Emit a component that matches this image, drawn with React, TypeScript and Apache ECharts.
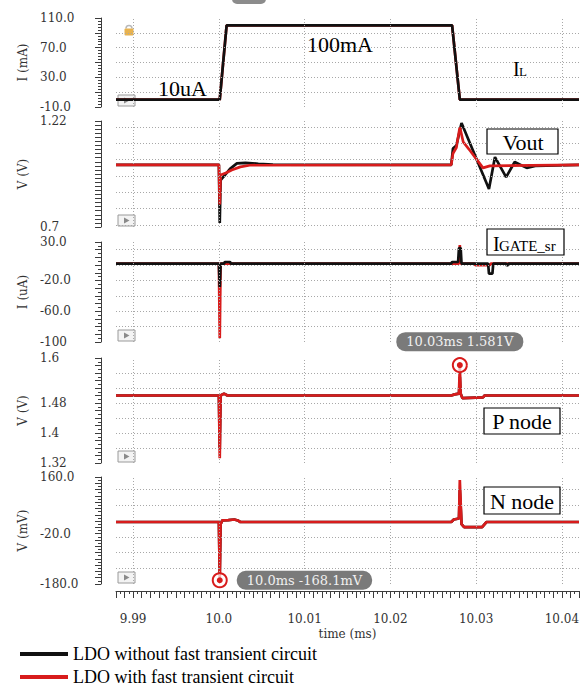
import React, { useEffect, useRef } from 'react';
import * as echarts from 'echarts';

const NAME_BLACK = 'LDO without fast transient circuit';
const NAME_RED = 'LDO with fast transient circuit';

// time axis (ms)
const timeMin = 9.988;
const timeMax = 10.042;
const timeTickLabels = [9.99, 10.0, 10.01, 10.02, 10.03, 10.04];
const timeGridLines = [9.99, 9.995, 10.0, 10.005, 10.01, 10.015, 10.02, 10.025, 10.03, 10.035, 10.04];

// Panel 1: load current IL (mA)
const ilTime = [9.988, 10.0001, 10.0009, 10.0272, 10.0281, 10.042];
const ilValue = [0.01, 0.01, 100, 100, 0.01, 0.01];
const ilTickValues = [110, 70, 30, -10];
const ilTickLabels = ['110.0', '70.0', '30.0', '-10.0'];
const ilGridValues = [10, 30, 50, 70, 90];

// Panel 2: Vout (V)
const voutBlackTime = [9.988, 10.0, 10.0001, 10.0002, 10.0006, 10.0013, 10.0021, 10.0031, 10.0046, 10.0063, 10.0271, 10.0273, 10.0277, 10.0283, 10.0315, 10.0322, 10.0335, 10.0345, 10.0359, 10.0369, 10.042];
const voutBlackValue = [1.005, 1.005, 0.72, 0.93, 0.95, 0.985, 1.012, 1.015, 1.01, 1.006, 1.005, 1.085, 1.1, 1.21, 0.886, 1.043, 0.945, 1.019, 0.99, 1.0, 1.005];
const voutRedTime = [9.988, 10.0, 10.0001, 10.0002, 10.0008, 10.0015, 10.0025, 10.0036, 10.0271, 10.0273, 10.0277, 10.0281, 10.0285, 10.0292, 10.0301, 10.0308, 10.0316, 10.042];
const voutRedValue = [1.005, 1.005, 0.81, 0.955, 0.965, 0.98, 0.995, 1.003, 1.005, 1.06, 1.09, 1.19, 1.117, 1.08, 1.029, 0.99, 1.0, 1.005];
const voutTickValues = [1.22, 0.7];
const voutTickLabels = ['1.22', '0.7'];
const voutGridValues = [0.71, 0.79, 0.87, 0.95, 1.03, 1.11, 1.19];

// Panel 3: IGATE_sr (uA)
const igBlackTime = [9.988, 10.0, 10.0001, 10.0002, 10.0006, 10.0007, 10.0013, 10.0014, 10.0271, 10.0272, 10.0279, 10.028, 10.0282, 10.0283, 10.0314, 10.0315, 10.0319, 10.032, 10.0335, 10.0336, 10.0338, 10.042];
const igBlackValue = [2, 2, -28.5, 2, 2, 4, 4, 2, 2, 4, 4, 22, 22, 2, 2, -11, -11, 2, 2, -1, 2, 2];
const igRedTime = [9.988, 10.0, 10.0001, 10.0002, 10.028, 10.0281, 10.0282, 10.0298, 10.0299, 10.0316, 10.0317, 10.042];
const igRedValue = [2, 2, -95, 2, 2, 26, 2, 2, 0, 0, 2, 2];
const igTickValues = [30, -20, -60, -100];
const igTickLabels = ['30.0', '-20.0', '-60.0', '-100'];
const igGridValues = [-80, -60, -40, -20, 0, 20];

// Panel 4: P node (V)
const pBlackTime = [9.988, 10.0, 10.0001, 10.0002, 10.0006, 10.001, 10.0271, 10.0275, 10.028, 10.0281, 10.0282, 10.0284, 10.0308, 10.031, 10.042];
const pBlackValue = [1.5, 1.5, 1.36, 1.5, 1.505, 1.5, 1.5, 1.503, 1.505, 1.55, 1.505, 1.493, 1.495, 1.5, 1.5];
const pRedTime = [9.988, 10.0, 10.0001, 10.0002, 10.0006, 10.001, 10.0271, 10.0275, 10.028, 10.0281, 10.0282, 10.0284, 10.0308, 10.031, 10.042];
const pRedValue = [1.5, 1.5, 1.333, 1.5, 1.505, 1.5, 1.5, 1.503, 1.505, 1.581, 1.505, 1.493, 1.495, 1.5, 1.5];
const pTickValues = [1.6, 1.48, 1.4, 1.32];
const pTickLabels = ['1.6', '1.48', '1.4', '1.32'];
const pGridValues = [1.36, 1.4, 1.44, 1.48, 1.52, 1.56];

// Panel 5: N node (mV)
const nBlackTime = [9.988, 10.0, 10.0001, 10.0002, 10.0004, 10.0011, 10.0018, 10.0022, 10.0025, 10.0271, 10.0274, 10.028, 10.0281, 10.0283, 10.0286, 10.0307, 10.0312, 10.042];
const nBlackValue = [17, 17, -150, 10, 22, 23, 25, 22, 17, 17, 25, 28, 120, 10, 1, 1, 17, 17];
const nRedTime = [9.988, 10.0, 10.0001, 10.0002, 10.0004, 10.0011, 10.0018, 10.0022, 10.0025, 10.0271, 10.0274, 10.028, 10.0281, 10.0283, 10.0286, 10.0307, 10.0312, 10.042];
const nRedValue = [17, 17, -168.1, 10, 22, 23, 25, 22, 17, 17, 25, 28, 150, 10, 1, 1, 17, 17];
const nTickValues = [160, -20, -180];
const nTickLabels = ['160.0', '-20.0', '-180.0'];
const nGridValues = [-130, -80, -30, 70, 120];

const UI_FONT = '"DejaVu Serif", serif';
const TIMES = '"Liberation Serif", "Times New Roman", serif';
const BLACK = '#111111';
const RED = '#d81c1c';
const GRID_COLOR = '#a8a8a8';
const AXIS_COLOR = '#3c3c3c';

const zip = (t: number[], v: number[]) => t.map((x, i) => [x, v[i]]);

const panelLayout = [
  { top: 18, height: 89 },
  { top: 121, height: 106 },
  { top: 242, height: 100 },
  { top: 358, height: 105 },
  { top: 477, height: 107 },
];

function makeYAxis(idx: number, name: string, min: number, max: number, interval: number, minorSplit: number, tickValues: number[], tickLabels: string[]) {
  return {
    type: 'value',
    gridIndex: idx,
    min,
    max,
    interval,
    name,
    nameLocation: 'middle',
    nameGap: 66,
    nameTextStyle: { fontFamily: UI_FONT, fontSize: 12, color: '#333' },
    offset: 15,
    axisLine: { show: true, onZero: false, lineStyle: { color: AXIS_COLOR, width: 1 } },
    axisTick: { show: true, inside: false, length: 6, lineStyle: { color: AXIS_COLOR } },
    minorTick: { show: minorSplit > 1, splitNumber: minorSplit, length: 3, lineStyle: { color: AXIS_COLOR } },
    splitLine: { show: false },
    axisLabel: {
      show: true,
      align: 'left',
      margin: 61,
      fontFamily: UI_FONT,
      fontSize: 12,
      color: '#333',
      showMinLabel: true,
      showMaxLabel: true,
      formatter: (v: number) => {
        const i = tickValues.findIndex((t) => Math.abs(t - v) < 1e-7);
        return i >= 0 ? tickLabels[i] : '';
      },
    },
  };
}

function gridSeries(idx: number, yMin: number, yValues: number[]) {
  return {
    type: 'line',
    xAxisIndex: idx,
    yAxisIndex: idx,
    data: [[timeMin, yMin]],
    showSymbol: false,
    symbol: 'none',
    lineStyle: { opacity: 0 },
    silent: true,
    z: 1,
    markLine: {
      silent: true,
      symbol: ['none', 'none'],
      label: { show: false },
      lineStyle: { color: GRID_COLOR, type: [1, 2], width: 1 },
      data: [...timeGridLines.map((x) => ({ xAxis: x })), ...yValues.map((y) => ({ yAxis: y }))],
    },
  };
}

function lineSeries(idx: number, name: string, color: string, t: number[], v: number[], extra: any = {}) {
  return {
    type: 'line',
    name,
    xAxisIndex: idx,
    yAxisIndex: idx,
    data: zip(t, v),
    showSymbol: false,
    symbol: 'none',
    lineStyle: { color, width: 2.7 },
    itemStyle: { color },
    z: 2,
    ...extra,
  };
}

function markerFor(t: number[], v: number[], pick: 'max' | 'min', text: (x: number, y: number) => string, position: string, distance: number) {
  let idx = 0;
  v.forEach((val, i) => {
    if (pick === 'max' ? val > v[idx] : val < v[idx]) idx = i;
  });
  const coord = [t[idx], v[idx]];
  return {
    silent: true,
    symbol: 'circle',
    data: [
      {
        coord,
        symbolSize: 14,
        itemStyle: { color: 'rgba(255,255,255,0.7)', borderColor: RED, borderWidth: 2 },
        label: {
          show: true,
          position,
          distance,
          formatter: text(coord[0], coord[1]),
          backgroundColor: '#7a7a7a',
          color: '#f0f0f0',
          borderRadius: 9,
          padding: [3, 10, 3, 10],
          fontFamily: UI_FONT,
          fontSize: 13,
        },
      },
      {
        coord,
        symbolSize: 6,
        itemStyle: { color: RED, borderWidth: 0 },
        label: { show: false },
      },
    ],
  };
}

export default function App() {
  const ref = useRef<HTMLDivElement>(null);

  useEffect(() => {
    if (!ref.current) return;
    const chart = echarts.init(ref.current, null, { renderer: 'svg' });

    const grids = panelLayout.map((p) => ({ left: 116, right: 9, top: p.top, height: p.height }));

    const xAxes: any[] = panelLayout.map((_, i) => ({
      type: 'value',
      gridIndex: i,
      min: timeMin,
      max: timeMax,
      show: false,
    }));
    xAxes[4] = {
      type: 'value',
      gridIndex: 4,
      min: timeMin,
      max: timeMax,
      interval: 0.0005,
      position: 'bottom',
      offset: 7,
      name: 'time (ms)',
      nameLocation: 'middle',
      nameGap: 37,
      nameTextStyle: { fontFamily: UI_FONT, fontSize: 12, color: '#333' },
      axisLine: { show: true, onZero: false, lineStyle: { color: AXIS_COLOR, width: 1 } },
      axisTick: { show: true, length: 3, lineStyle: { color: AXIS_COLOR } },
      splitLine: { show: false },
      axisLabel: {
        margin: 22,
        fontFamily: UI_FONT,
        fontSize: 12,
        color: '#333',
        formatter: (v: number) => {
          const hit = timeTickLabels.find((t) => Math.abs(t - v) < 1e-7);
          if (hit === undefined) return '';
          return Math.abs(hit - 10) < 1e-9 ? '10.0' : hit.toFixed(2);
        },
      },
    };
    xAxes.push({
      type: 'value',
      gridIndex: 4,
      min: timeMin,
      max: timeMax,
      interval: 0.001,
      position: 'bottom',
      offset: 7,
      axisLine: { show: false, onZero: false },
      axisTick: { show: true, length: 7, lineStyle: { color: AXIS_COLOR } },
      axisLabel: { show: false },
      splitLine: { show: false },
    });

    const yAxes = [
      makeYAxis(0, 'I (mA)', -10, 110, 20, 5, ilTickValues, ilTickLabels),
      makeYAxis(1, 'V (V)', 0.7, 1.22, 0.02, 1, voutTickValues, voutTickLabels),
      makeYAxis(2, 'I (uA)', -100, 30, 10, 2, igTickValues, igTickLabels),
      makeYAxis(3, 'V (V)', 1.32, 1.6, 0.02, 2, pTickValues, pTickLabels),
      makeYAxis(4, 'V (mV)', -180, 160, 20, 2, nTickValues, nTickLabels),
    ];

    const series: any[] = [
      gridSeries(0, -10, ilGridValues),
      gridSeries(1, 0.7, voutGridValues),
      gridSeries(2, -100, igGridValues),
      gridSeries(3, 1.32, pGridValues),
      gridSeries(4, -180, nGridValues),
      // panel 1
      lineSeries(0, NAME_RED, RED, ilTime, ilValue),
      lineSeries(0, NAME_BLACK, BLACK, ilTime, ilValue),
      // panel 2
      lineSeries(1, NAME_BLACK, BLACK, voutBlackTime, voutBlackValue),
      lineSeries(1, NAME_RED, RED, voutRedTime, voutRedValue),
      // panel 3
      lineSeries(2, NAME_RED, RED, igRedTime, igRedValue),
      lineSeries(2, NAME_BLACK, BLACK, igBlackTime, igBlackValue),
      // panel 4
      lineSeries(3, NAME_BLACK, BLACK, pBlackTime, pBlackValue),
      lineSeries(3, NAME_RED, RED, pRedTime, pRedValue, {
        markPoint: markerFor(pRedTime, pRedValue, 'max', (x, y) => `${x.toFixed(2)}ms ${y.toFixed(3)}V`, 'top', 6),
      }),
      // panel 5
      lineSeries(4, NAME_BLACK, BLACK, nBlackTime, nBlackValue),
      lineSeries(4, NAME_RED, RED, nRedTime, nRedValue, {
        markPoint: markerFor(nRedTime, nRedValue, 'min', (x, y) => `${x.toFixed(1)}ms ${y.toFixed(1)}mV`, 'right', 9),
      }),
    ];

    const bottoms = panelLayout.map((p) => p.top + p.height);
    const playIcons: any[] = [];
    bottoms.forEach((b) => {
      playIcons.push({
        type: 'rect',
        z: 1,
        shape: { x: 118, y: b - 12, width: 17, height: 11 },
        style: { fill: '#f3f3f3', stroke: '#9a9a9a', lineWidth: 1 },
      });
      playIcons.push({
        type: 'polygon',
        z: 1,
        shape: { points: [[124, b - 9.5], [124, b - 3.5], [129.5, b - 6.5]] },
        style: { fill: '#8a8a8a' },
      });
    });

    const boxed = (x: number, y: number, w: number, h: number) => ({
      type: 'rect',
      z: 50,
      shape: { x, y, width: w, height: h },
      style: { fill: '#ffffff', stroke: '#000', lineWidth: 1.2 },
    });
    const txt = (text: string, x: number, y: number, size: number, align = 'left') => ({
      type: 'text',
      z: 51,
      x,
      y,
      style: { text, fontFamily: TIMES, fontSize: size, fill: '#000', align, verticalAlign: 'middle' },
    });

    const graphic: any[] = [
      ...playIcons,
      { type: 'rect', z: 1, shape: { x: 232, y: -8, width: 34, height: 12, r: 5 }, style: { fill: '#8c8c8c' } },
      { type: 'arc', z: 1, shape: { cx: 129, cy: 28.5, r: 3, startAngle: Math.PI, endAngle: 2 * Math.PI }, style: { stroke: '#b9b9b9', lineWidth: 1.6, fill: 'none' } },
      { type: 'rect', z: 1, shape: { x: 124.5, y: 28.5, width: 9, height: 7, r: 1 }, style: { fill: '#e8b24e' } },
      txt('10uA', 158, 88, 22),
      txt('100mA', 307, 44, 22),
      txt('I', 513, 69, 20),
      txt('L', 519, 71.5, 13),
      boxed(487, 129, 71, 25),
      txt('Vout', 523, 142, 22, 'center'),
      boxed(487, 229, 77, 26),
      txt('I', 493, 243.5, 20),
      txt('GATE_sr', 499, 245.5, 15),
      boxed(484, 408, 76, 26),
      txt('P node', 522, 421.5, 22, 'center'),
      boxed(484, 487, 76, 27),
      txt('N node', 522, 501, 22, 'center'),
    ];

    const legendBase = {
      orient: 'vertical',
      left: 20,
      itemWidth: 48,
      itemHeight: 4,
      icon: 'rect',
      selectedMode: false,
      padding: 0,
      textStyle: { fontFamily: TIMES, fontSize: 18, color: '#000' },
    };

    chart.setOption({
      animation: false,
      backgroundColor: '#ffffff',
      grid: grids,
      xAxis: xAxes,
      yAxis: yAxes,
      legend: [
        { ...legendBase, top: 645, data: [NAME_BLACK] },
        { ...legendBase, top: 668, data: [NAME_RED] },
      ],
      series,
      graphic,
    });

    return () => chart.dispose();
  }, []);

  return <div ref={ref} style={{ position: 'absolute', left: 0, top: 0, width: 588, height: 688 }} />;
}
